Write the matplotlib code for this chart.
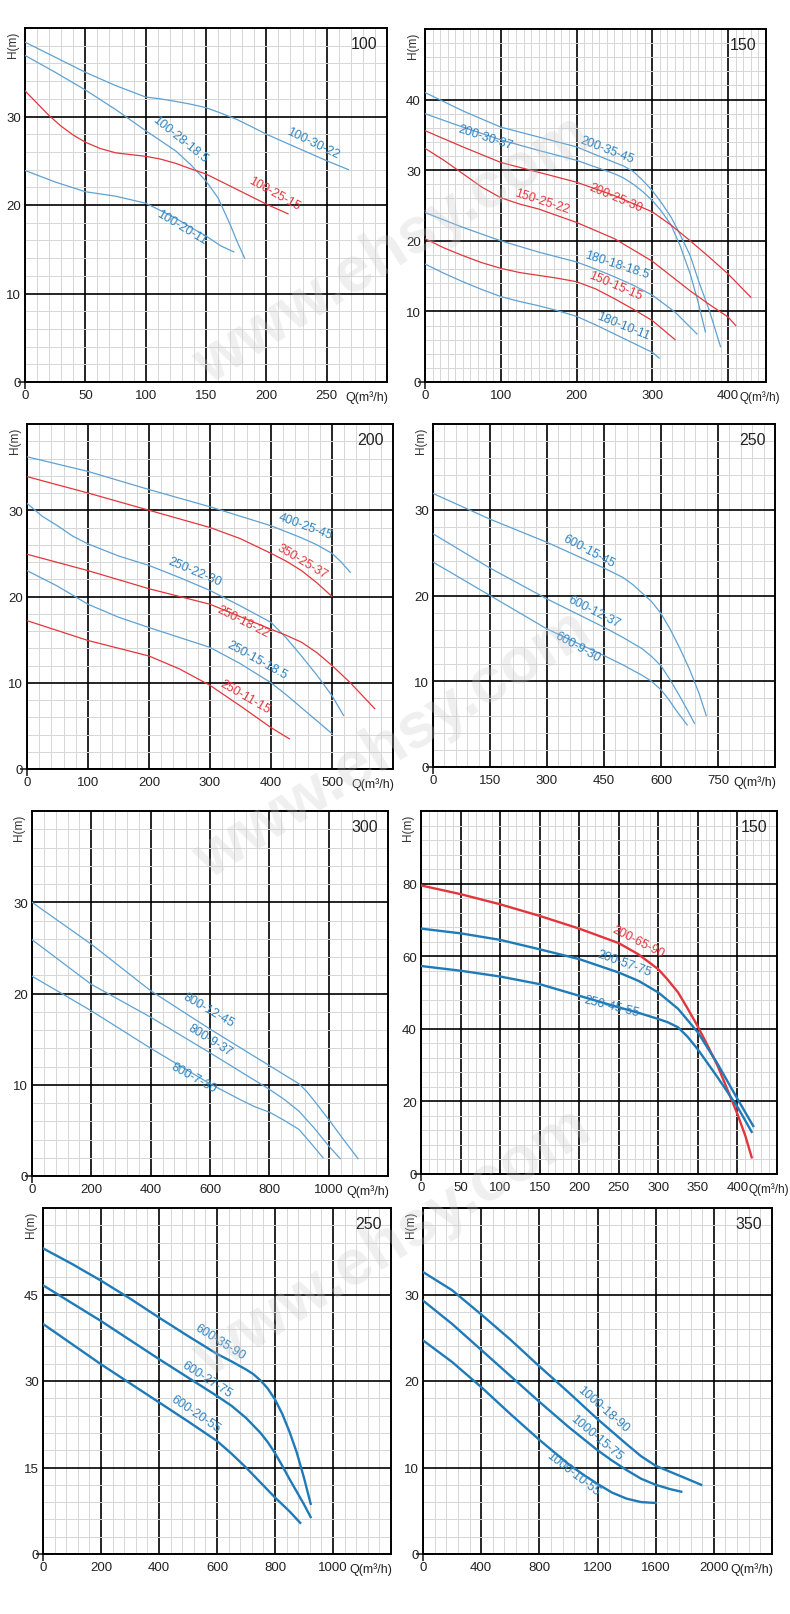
import matplotlib
matplotlib.use("Agg")
import matplotlib.pyplot as plt
import numpy as np

plt.rcParams['font.family'] = ['Liberation Sans', 'DejaVu Sans']

# ---------------- data (Q in m3/h, H in m) ----------------
# DN100
q100_30_22 = [0, 25, 50, 75, 100, 112, 125, 137, 150, 162, 175, 187, 200, 225, 250, 268]
h100_30_22 = [38.4, 36.7, 35.0, 33.5, 32.2, 32.0, 31.7, 31.4, 31.0, 30.4, 29.7, 28.9, 28.0, 26.5, 25.0, 24.0]
q100_28_18 = [0, 25, 50, 75, 100, 112, 125, 137, 150, 160, 170, 176, 182]
h100_28_18 = [36.9, 35.0, 33.0, 30.8, 28.4, 27.3, 26.1, 24.6, 22.7, 20.8, 17.8, 15.8, 14.0]
q100_25_15 = [0, 10, 20, 30, 40, 50, 62, 75, 87, 100, 112, 125, 137, 150, 175, 200, 218]
h100_25_15 = [32.9, 31.5, 30.1, 28.9, 27.9, 27.1, 26.4, 25.9, 25.7, 25.5, 25.2, 24.7, 24.1, 23.5, 21.8, 20.1, 19.0]
q100_20_11 = [0, 25, 50, 75, 100, 112, 125, 137, 150, 162, 173]
h100_20_11 = [23.9, 22.6, 21.5, 21.0, 20.2, 19.4, 18.5, 17.5, 16.5, 15.4, 14.7]

# DN150
q200_35_45 = [0, 50, 100, 150, 200, 250, 262, 275, 287, 300, 312, 325, 337, 350, 362, 375, 390]
h200_35_45 = [41.0, 38.4, 36.1, 34.7, 33.3, 31.1, 30.6, 29.8, 28.6, 27.1, 25.4, 23.3, 20.8, 17.9, 14.0, 10.2, 5.0]
q200_30_37 = [0, 50, 100, 150, 200, 250, 262, 275, 287, 300, 312, 325, 337, 350, 360, 370]
h200_30_37 = [38.0, 36.1, 34.3, 32.8, 31.4, 29.5, 28.9, 28.0, 27.0, 25.7, 24.2, 22.2, 19.2, 15.3, 11.5, 7.1]
q200_25_30 = [0, 50, 100, 150, 200, 250, 300, 325, 350, 375, 400, 430]
h200_25_30 = [35.6, 33.3, 31.1, 29.7, 28.3, 26.4, 24.1, 22.2, 20.0, 17.7, 15.3, 12.0]
q150_25_22 = [0, 25, 50, 75, 100, 125, 150, 200, 250, 300, 325, 350, 375, 400, 410]
h150_25_22 = [33.1, 31.4, 29.5, 27.6, 26.1, 25.2, 24.5, 22.6, 20.3, 17.1, 15.0, 12.9, 11.0, 9.2, 8.0]
q180_18_18 = [0, 50, 100, 150, 200, 225, 250, 275, 300, 330, 359]
h180_18_18 = [24.0, 21.9, 20.0, 18.4, 17.0, 16.0, 14.9, 13.7, 12.3, 9.9, 6.8]
q150_15_15 = [0, 25, 50, 75, 100, 125, 150, 175, 200, 225, 250, 275, 300, 330]
h150_15_15 = [20.3, 19.0, 17.9, 16.9, 16.1, 15.5, 15.1, 14.7, 14.2, 13.2, 11.8, 10.3, 8.7, 6.0]
q180_10_11 = [0, 25, 50, 75, 100, 125, 150, 175, 200, 225, 250, 275, 300, 309]
h180_10_11 = [16.7, 15.4, 14.2, 13.1, 12.1, 11.4, 10.8, 10.1, 9.3, 8.1, 6.8, 5.5, 4.2, 3.4]

# DN200
q400_25_45 = [0, 100, 200, 300, 400, 450, 475, 500, 515, 530]
h400_25_45 = [36.2, 34.5, 32.4, 30.4, 28.2, 26.8, 26.0, 25.0, 24.0, 22.8]
q350_25_37 = [0, 100, 200, 300, 350, 400, 425, 450, 475, 500]
h350_25_37 = [33.9, 32.0, 30.0, 28.0, 26.7, 25.0, 24.1, 23.0, 21.6, 20.0]
q250_22_30 = [0, 25, 50, 75, 100, 150, 200, 250, 300, 350, 400, 425, 450, 475, 500, 519]
h250_22_30 = [30.8, 29.3, 28.2, 27.0, 26.1, 24.7, 23.6, 22.2, 20.7, 18.9, 17.0, 15.2, 13.1, 10.9, 8.5, 6.2]
q250_18_22 = [0, 100, 200, 300, 400, 425, 450, 475, 500, 530, 550, 570]
h250_18_22 = [24.9, 23.0, 20.9, 19.1, 16.2, 15.5, 14.7, 13.5, 12.0, 10.0, 8.5, 7.0]
q250_15_18 = [0, 50, 100, 150, 200, 300, 350, 400, 425, 450, 475, 500]
h250_15_18 = [23.0, 21.2, 19.1, 17.6, 16.4, 14.1, 12.2, 10.0, 8.6, 7.1, 5.6, 4.1]
q250_11_15 = [0, 100, 200, 250, 300, 350, 400, 430]
h250_11_15 = [17.2, 14.9, 13.1, 11.6, 9.7, 7.3, 4.8, 3.5]

# DN250
q600_15_45 = [0, 75, 150, 300, 450, 500, 525, 550, 575, 600, 625, 650, 675, 700, 719]
h600_15_45 = [31.9, 30.4, 28.9, 26.2, 23.2, 22.1, 21.3, 20.3, 19.3, 17.9, 16.0, 13.8, 11.4, 8.6, 6.0]
q600_12_37 = [0, 150, 300, 450, 500, 550, 575, 600, 625, 650, 670, 688]
h600_12_37 = [27.2, 23.2, 19.6, 16.3, 15.1, 13.8, 12.9, 11.8, 10.1, 8.2, 6.6, 5.1]
q600_9_30 = [0, 150, 300, 450, 500, 550, 575, 600, 620, 640, 669]
h600_9_30 = [23.9, 20.0, 16.1, 13.0, 11.9, 10.7, 10.0, 9.0, 7.9, 6.6, 4.9]

# DN300
q800_12_45 = [0, 200, 400, 600, 800, 850, 900, 925, 950, 1000, 1050, 1099]
h800_12_45 = [30.0, 25.4, 20.3, 16.1, 12.1, 11.1, 10.1, 9.3, 8.3, 6.2, 4.0, 1.9]
q800_9_37 = [0, 200, 400, 600, 800, 850, 900, 950, 1000, 1039]
h800_9_37 = [25.9, 21.0, 17.4, 13.5, 9.5, 8.4, 7.1, 5.3, 3.3, 1.9]
q800_7_30 = [0, 200, 400, 600, 700, 750, 800, 850, 900, 940, 981]
h800_7_30 = [21.9, 18.1, 14.0, 10.1, 8.4, 7.6, 7.0, 6.1, 5.1, 3.6, 2.0]

# DN150 high head
q200_65_90 = [0, 50, 100, 150, 200, 250, 275, 300, 312, 325, 337, 350, 362, 375, 387, 400, 410, 418]
h200_65_90 = [79.5, 77.1, 74.3, 71.1, 67.6, 63.6, 60.5, 56.4, 53.5, 50.0, 45.6, 40.6, 35.5, 29.8, 23.4, 16.5, 10.5, 4.6]
q200_57_75 = [0, 50, 100, 150, 200, 250, 275, 300, 325, 350, 375, 400, 420]
h200_57_75 = [67.6, 66.3, 64.5, 61.9, 59.2, 55.5, 53.2, 50.0, 45.5, 39.0, 30.3, 20.7, 13.2]
q250_45_55 = [0, 50, 100, 150, 200, 250, 275, 300, 312, 325, 337, 350, 375, 400, 418]
h250_45_55 = [57.3, 56.0, 54.4, 52.3, 49.1, 45.9, 44.4, 42.7, 41.8, 40.4, 37.8, 34.3, 26.6, 18.5, 11.6]

# DN250 high head
q600_35_90 = [0, 100, 200, 300, 400, 500, 600, 650, 700, 725, 750, 775, 800, 825, 850, 875, 900, 923]
h600_35_90 = [53.0, 50.3, 47.4, 44.3, 41.0, 37.8, 34.7, 33.4, 32.0, 31.2, 30.1, 28.7, 26.8, 24.3, 21.2, 17.6, 13.2, 8.7]
q600_27_75 = [0, 100, 200, 300, 400, 500, 600, 650, 700, 750, 775, 800, 825, 850, 875, 900, 923]
h600_27_75 = [46.6, 43.5, 40.4, 37.1, 33.8, 30.6, 27.4, 25.7, 23.6, 21.0, 19.4, 17.5, 15.3, 13.0, 10.8, 8.6, 6.4]
q600_20_55 = [0, 100, 200, 300, 400, 500, 600, 650, 700, 750, 800, 850, 887]
h600_20_55 = [39.9, 36.4, 32.9, 29.6, 26.3, 23.0, 19.6, 17.4, 15.0, 12.4, 9.8, 7.4, 5.4]

# DN350
q1000_18_90 = [0, 200, 400, 600, 800, 1000, 1200, 1400, 1500, 1600, 1700, 1800, 1913]
h1000_18_90 = [32.6, 30.5, 27.7, 24.8, 21.7, 18.7, 15.6, 12.7, 11.3, 10.2, 9.5, 8.8, 8.0]
q1000_15_75 = [0, 200, 400, 600, 800, 1000, 1200, 1300, 1400, 1500, 1600, 1700, 1776]
h1000_15_75 = [29.3, 26.6, 23.6, 20.6, 17.6, 14.7, 12.0, 10.8, 9.7, 8.7, 8.0, 7.5, 7.2]
q1000_10_55 = [0, 200, 400, 600, 800, 1000, 1100, 1200, 1300, 1400, 1500, 1600]
h1000_10_55 = [24.7, 22.2, 19.3, 16.2, 13.2, 10.4, 9.2, 8.1, 7.1, 6.4, 6.0, 5.9]

panel_names = ["100", "150", "200", "250", "300", "150", "250", "350"]

# ---------------- styles ----------------
LBLUE = "#5ea2d3"
TBLUE = "#2d82c0"
DBLUE = "#1f7bb8"
RED = "#e2363c"
W, H = 790.0, 1615.0


def rect(l, t, r, b):
    return [l / W, 1 - b / H, (r - l) / W, (b - t) / H]


def setup(ax, xmax, xstep, xminor, ymax, ystep, yminor, name, qpos=None):
    ax.set_xlim(0, xmax)
    ax.set_ylim(0, ymax)
    ax.set_xticks(np.arange(0, xmax, xstep))
    ax.set_yticks(np.arange(0, ymax, ystep))
    ax.set_xticks(np.arange(0, xmax, xminor), minor=True)
    ax.set_yticks(np.arange(0, ymax, yminor), minor=True)
    ax.grid(which='minor', color='#d6d6d6', lw=0.7, zorder=0)
    ax.grid(which='major', color='black', lw=1.2, zorder=1)
    ax.set_axisbelow(True)
    for s in ax.spines.values():
        s.set_linewidth(1.4)
    ax.tick_params(which='both', length=0, labelsize=9.5, pad=3, colors='#222222')
    ax.tick_params(axis='x', pad=5)
    for t in (ax.xaxis.get_major_ticks()[0], ax.yaxis.get_major_ticks()[0]):
        t.tick1line.set_markersize(5)
        t.tick1line.set_markeredgewidth(1.2)
    ax.annotate('H(m)', xy=(0, 1), xycoords='axes fraction', xytext=(-9, -2),
                textcoords='offset points', rotation=90, ha='center', va='top',
                fontsize=8.5, color='#333333')
    if qpos is None:
        ax.annotate('Q(m³/h)', xy=(1, 0), xycoords='axes fraction', xytext=(1, -6),
                    textcoords='offset points', ha='right', va='top',
                    fontsize=9, color='#222222')
    else:
        ax.annotate('Q(m³/h)', xy=(qpos, 0), xycoords=('data', 'axes fraction'),
                    xytext=(8, -6), textcoords='offset points', ha='left', va='top',
                    fontsize=8.5, color='#222222', annotation_clip=False)
    ax.annotate(name, xy=(1, 1), xycoords='axes fraction', xytext=(-7, -6),
                textcoords='offset points', ha='right', va='top',
                fontsize=11.5, color='#222222')


def curve(ax, q, h, label, color, tcolor, lx, ly, rot, lw=0.9):
    ax.plot(q, h, color=color, lw=lw, zorder=3, solid_joinstyle='round')
    th = np.radians(rot)
    off = 3.5
    ax.annotate(label, xy=(lx, ly), xytext=(-np.sin(th) * off, np.cos(th) * off),
                textcoords='offset points', color=tcolor, rotation=rot,
                rotation_mode='anchor', ha='center', va='center', fontsize=9, zorder=4)


fig = plt.figure(figsize=(7.9, 16.15), dpi=100)

# panel 1
ax = fig.add_axes(rect(25, 29, 387, 383))
setup(ax, 300, 50, 10, 40, 10, 2, panel_names[0])
curve(ax, q100_30_22, h100_30_22, "100-30-22", LBLUE, TBLUE, 237, 26.5, -26)
curve(ax, q100_28_18, h100_28_18, "100-28-18.5", LBLUE, TBLUE, 126, 27.1, -39)
curve(ax, q100_25_15, h100_25_15, "100-25-15", RED, RED, 205, 20.9, -29)
curve(ax, q100_20_11, h100_20_11, "100-20-11", LBLUE, TBLUE, 128, 17.1, -31)

# panel 2
ax = fig.add_axes(rect(425, 30, 766, 383))
setup(ax, 450, 100, 10, 50, 10, 2, panel_names[1], qpos=400)
curve(ax, q200_35_45, h200_35_45, "200-35-45", LBLUE, TBLUE, 238, 32.3, -21)
curve(ax, q200_30_37, h200_30_37, "200-30-37", LBLUE, TBLUE, 78, 34.0, -18)
curve(ax, q200_25_30, h200_25_30, "200-25-30", RED, RED, 249, 25.5, -23)
curve(ax, q150_25_22, h150_25_22, "150-25-22", RED, RED, 153, 25.0, -18)
curve(ax, q180_18_18, h180_18_18, "180-18-18.5", LBLUE, TBLUE, 251, 16.0, -18)
curve(ax, q150_15_15, h150_15_15, "150-15-15", RED, RED, 249, 13.0, -23)
curve(ax, q180_10_11, h180_10_11, "180-10-11", LBLUE, TBLUE, 259, 7.3, -22)

# panel 3
ax = fig.add_axes(rect(27, 425, 393, 770))
setup(ax, 600, 100, 20, 40, 10, 2, panel_names[2])
curve(ax, q400_25_45, h400_25_45, "400-25-45", LBLUE, TBLUE, 454, 27.6, -20)
curve(ax, q350_25_37, h350_25_37, "350-25-37", RED, RED, 447, 23.6, -31)
curve(ax, q250_22_30, h250_22_30, "250-22-30", LBLUE, TBLUE, 271, 22.4, -23)
curve(ax, q250_18_22, h250_18_22, "250-18-22", RED, RED, 351, 16.6, -27)
curve(ax, q250_15_18, h250_15_18, "250-15-18.5", LBLUE, TBLUE, 373, 12.2, -29)
curve(ax, q250_11_15, h250_11_15, "250-11-15", RED, RED, 353, 7.9, -30)

# panel 4
ax = fig.add_axes(rect(433, 425, 775, 768))
setup(ax, 900, 150, 30, 40, 10, 2, panel_names[3])
curve(ax, q600_15_45, h600_15_45, "600-15-45", LBLUE, TBLUE, 404, 24.7, -28)
curve(ax, q600_12_37, h600_12_37, "600-12-37", LBLUE, TBLUE, 417, 17.7, -27)
curve(ax, q600_9_30, h600_9_30, "600-9-30", LBLUE, TBLUE, 375, 13.6, -29)

# panel 5
ax = fig.add_axes(rect(32, 812, 388, 1177))
setup(ax, 1200, 200, 40, 40, 10, 2, panel_names[4])
curve(ax, q800_12_45, h800_12_45, "800-12-45", LBLUE, TBLUE, 588, 17.8, -30)
curve(ax, q800_9_37, h800_9_37, "800-9-37", LBLUE, TBLUE, 593, 14.5, -32)
curve(ax, q800_7_30, h800_7_30, "800-7-30", LBLUE, TBLUE, 537, 10.3, -29)

# panel 6
ax = fig.add_axes(rect(421, 812, 777, 1175))
setup(ax, 450, 50, 10, 100, 20, 4, panel_names[5], qpos=400)
curve(ax, q200_65_90, h200_65_90, "200-65-90", RED, RED, 271, 62.8, -27, lw=1.7)
curve(ax, q200_57_75, h200_57_75, "200-57-75", DBLUE, TBLUE, 255, 56.9, -20, lw=1.7)
curve(ax, q250_45_55, h250_45_55, "250-45-55", DBLUE, TBLUE, 239, 45.0, -14, lw=1.7)

# panel 7
ax = fig.add_axes(rect(43, 1209, 391, 1555))
setup(ax, 1200, 200, 40, 60, 15, 3, panel_names[6])
curve(ax, q600_35_90, h600_35_90, "600-35-90", DBLUE, TBLUE, 600, 36.1, -32, lw=1.7)
curve(ax, q600_27_75, h600_27_75, "600-27-75", DBLUE, TBLUE, 556, 29.7, -33, lw=1.7)
curve(ax, q600_20_55, h600_20_55, "600-20-55", DBLUE, TBLUE, 517, 23.7, -34, lw=1.7)

# panel 8
ax = fig.add_axes(rect(423, 1209, 772, 1555))
setup(ax, 2400, 400, 80, 40, 10, 2, panel_names[7])
curve(ax, q1000_18_90, h1000_18_90, "1000-18-90", DBLUE, TBLUE, 1216, 16.4, -41, lw=1.7)
curve(ax, q1000_15_75, h1000_15_75, "1000-15-75", DBLUE, TBLUE, 1170, 13.1, -40, lw=1.7)
curve(ax, q1000_10_55, h1000_10_55, "1000-10-55", DBLUE, TBLUE, 1010, 8.9, -38, lw=1.7)

# faint watermark
for yc in [250, 745, 1243]:
    fig.text(393 / W, 1 - yc / H, "www.ehsy.com", rotation=32, fontsize=46,
             fontweight='bold', color='#c8c8c8', alpha=0.28,
             ha='center', va='center', zorder=10)

fig.savefig("out.png", dpi=100, facecolor='white')
